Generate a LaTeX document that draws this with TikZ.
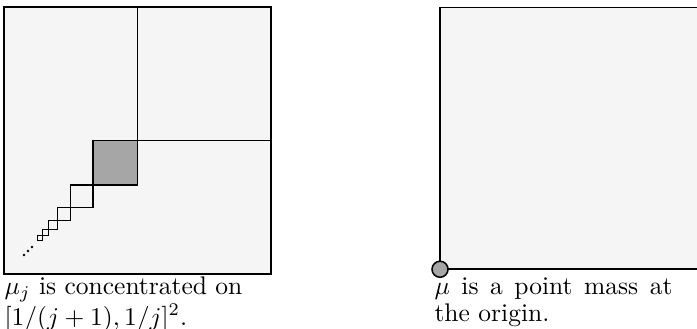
\documentclass[tikz,border=0pt]{standalone}
\begin{document}
\begin{tikzpicture}[x=3.68cm,y=3.68cm,
  frame/.style={draw=black,line width=.6pt,fill=black!4},
  caption/.style={anchor=base west,inner sep=0pt,text width=93.3pt,align=justify,font=\linespread{.89}\selectfont}]
\useasboundingbox (-.015,-.206) rectangle (2.5955,1.026);
\clip (-.015,-.206) rectangle (2.5955,1.026);
\draw[frame] (0,0) rectangle (1,1);
\filldraw[line width=.5pt,fill=black!35] (1/3,1/3) rectangle (1/2,1/2);
\foreach \j in {1,...,7}
  \draw[line width=.5pt] ({1/(\j+1)},{1/(\j+1)}) rectangle ({1/\j},{1/\j});
\foreach \t in {.075,.09,.105}
  \fill (\t,\t-.004) circle[radius=.55pt];
\draw[frame] (1.633,.0176) rectangle ++(.981,.981);
\filldraw[line width=.6pt,fill=black!35] (1.633,.0176) circle[radius=.03];
\node[caption] (capj) at (0,-.0775) {$\mu_j$ is concentrated on $[1/(j+1),1/j]^2$.};
\node[caption] (capmu) at (1.6105,-.0775) {$\mu$ is a point mass at the origin.};
\end{tikzpicture}
\end{document}
